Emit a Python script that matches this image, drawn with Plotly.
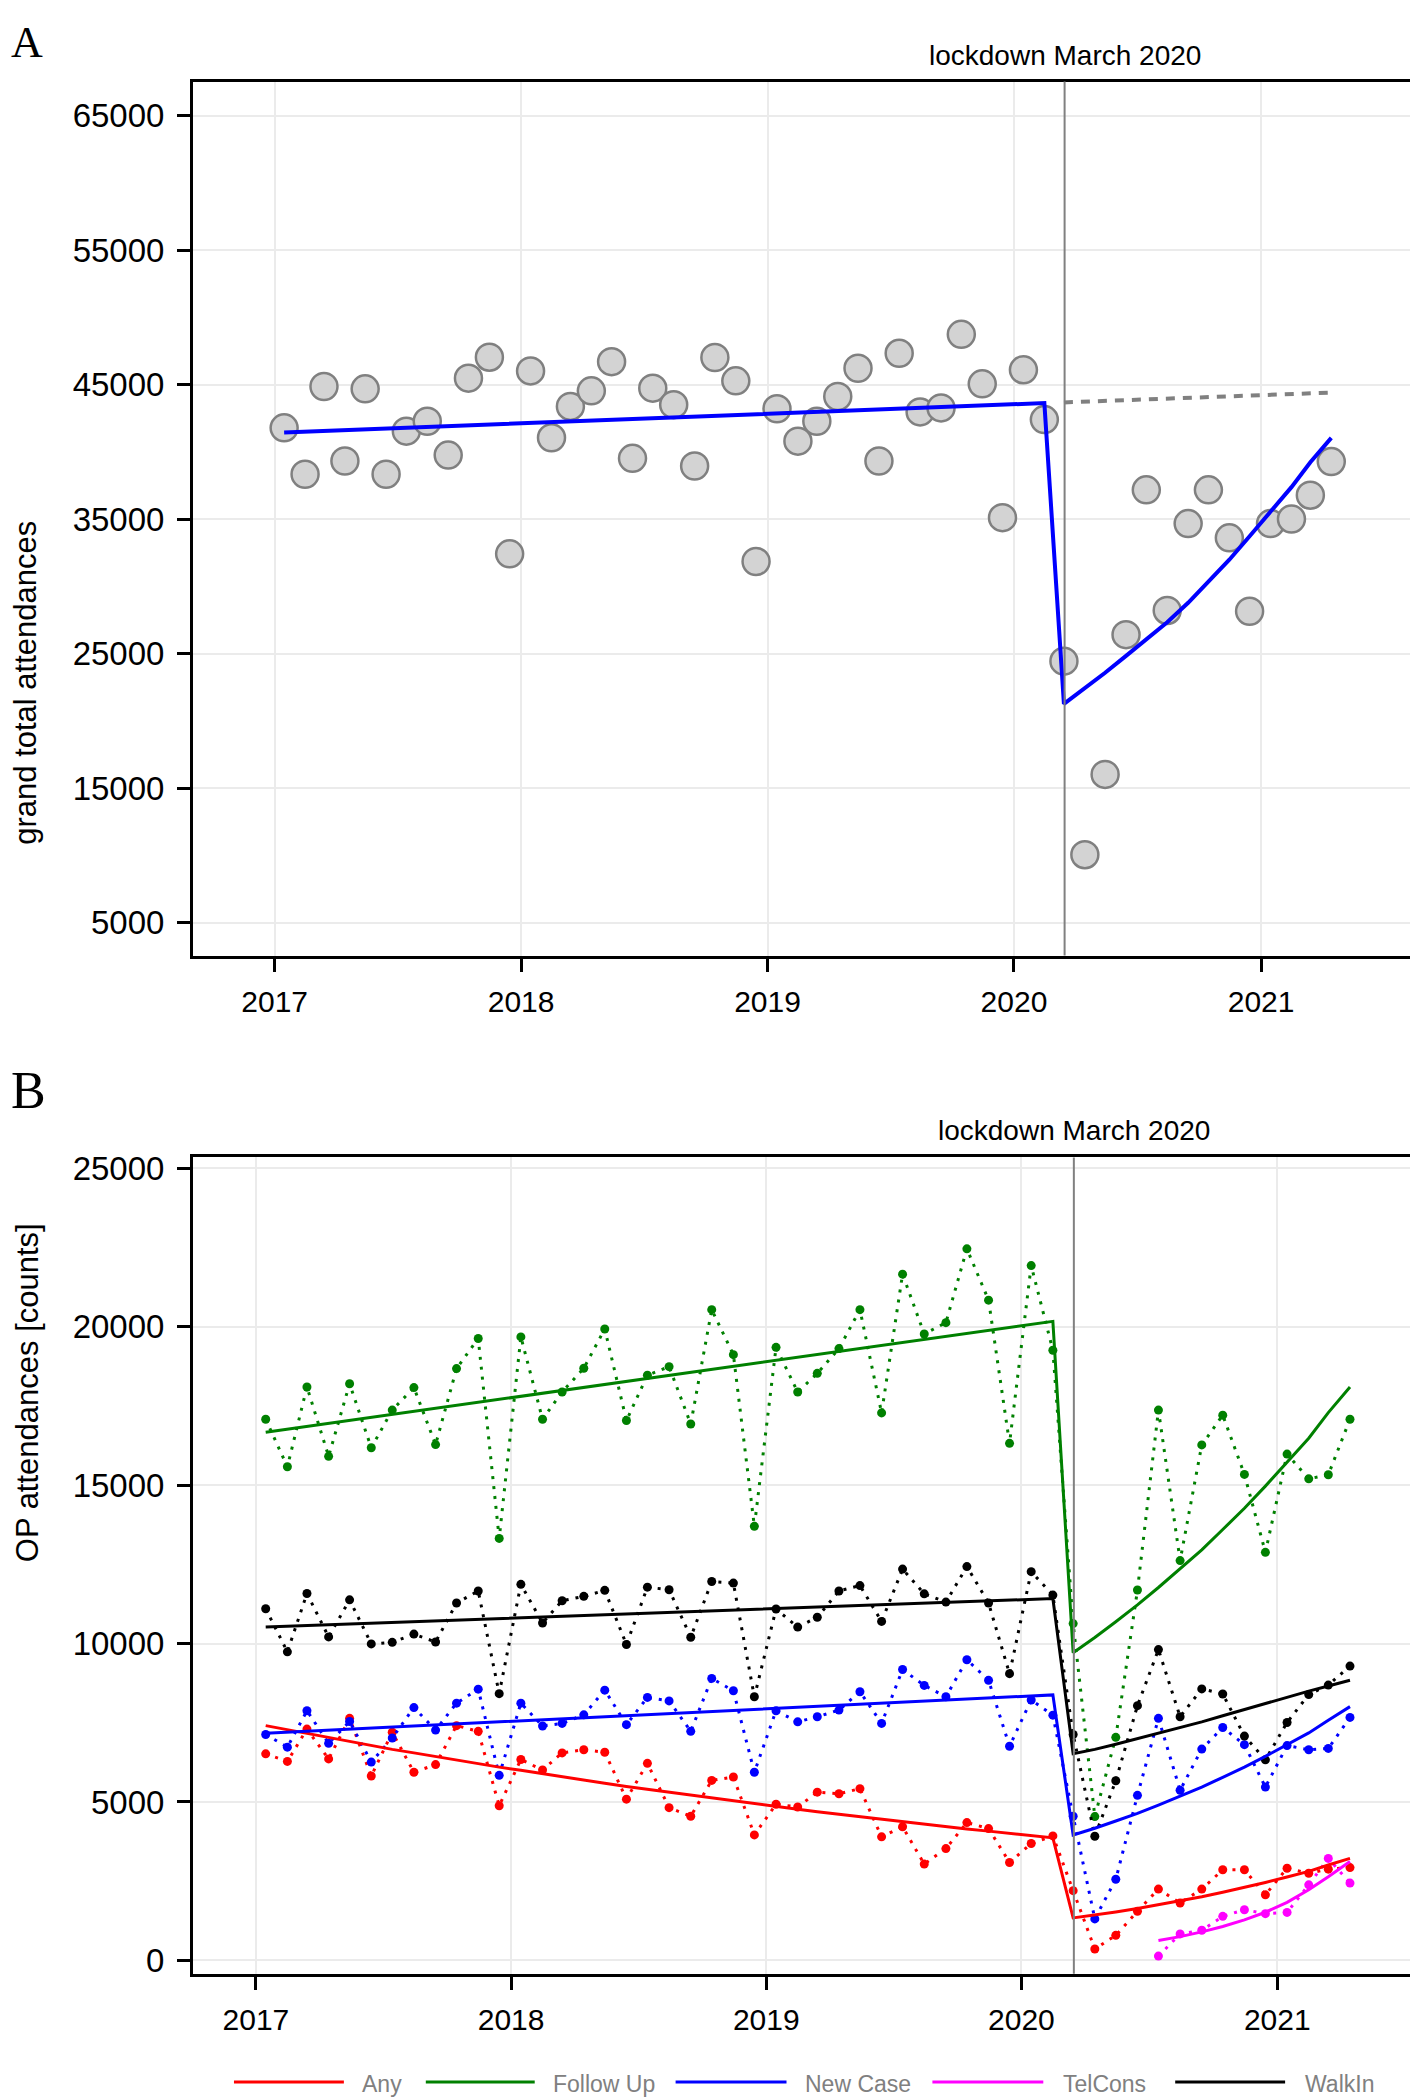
import plotly.graph_objects as go

# monthly observation dates, Jan 2017 - Apr 2021 (mid-month)
months = [f"{y}-{m:02d}-15" for y in range(2017, 2022) for m in range(1, 13)][:52]
lockdown = "2020-03-16"

# ---- panel A: grand total attendances ----
grand_total = [
    41810, 38360, 44880, 39340, 44710, 38360, 41560, 42300, 39780, 45500, 47060, 32440,
    46040, 41070, 43400, 44560, 46730, 39540, 44760, 43530, 38970, 47040, 45300, 31870,
    43230, 40820, 42300, 44140, 46240, 39340, 47350, 42990, 43290, 48760, 45080, 35130,
    46120, 42420, 24460, 10070, 16040, 26430, 37200, 28230, 34690, 37200, 33630, 28170,
    34690, 35030, 36800, 39300,
]
a_fit_pre = [41460, 43650]  # Jan 2017, Feb 2020
a_fit_post = [21280, 22420, 23600, 24850, 26100, 27350, 28800,
              30350, 32000, 33750, 35550, 37400, 39250, 41060]  # Mar 2020 - Apr 2021
a_counterfactual = [43700, 44430]  # Mar 2020, Apr 2021

# ---- panel B: OP attendances by type ----
any_visit = [
    6520, 6280, 7300, 6360, 7640, 5820, 7200, 5940, 6180, 7410, 7230, 4880,
    6340, 6010, 6550, 6650, 6570, 5090, 6220, 4820, 4550, 5680, 5790, 3960,
    4930, 4840, 5310, 5260, 5420, 3900, 4220, 3040, 3530, 4350, 4160, 3090,
    3690, 3930, 2200, 360, 790, 1550, 2250, 1810, 2250, 2860, 2860, 2070,
    2910, 2750, 2880, 2930,
]
follow_up = [
    17080, 15580, 18100, 15910, 18200, 16180, 17370, 18080, 16280, 18680, 19630, 13320,
    19680, 17080, 17940, 18690, 19930, 17040, 18470, 18740, 16930, 20540, 19120, 13700,
    19350, 17940, 18530, 19310, 20540, 17280, 21660, 19770, 20130, 22460, 20840, 16320,
    21930, 19260, 10630, 4540, 7040, 11690, 17370, 12620, 16270, 17210, 15340, 12880,
    15980, 15200, 15330, 17080,
]
new_case = [
    7130, 6730, 7880, 6850, 7540, 6260, 7020, 7980, 7270, 8120, 8560, 5840,
    8120, 7400, 7480, 7750, 8530, 7440, 8300, 8190, 7230, 8900, 8510, 5940,
    7880, 7530, 7690, 7900, 8480, 7480, 9180, 8680, 8320, 9490, 8840, 6760,
    8220, 7740, 4550, 1310, 2560, 5210, 7640, 5370, 6670, 7350, 6810, 5470,
    6780, 6650, 6690, 7670,
]
telcons = [135, 835, 950, 1390, 1600, 1475, 1515, 2385, 3220, 2440]  # Jul 2020 - Apr 2021
walkin = [
    11100, 9740, 11580, 10210, 11380, 9990, 10040, 10300, 10050, 11280, 11660, 8420,
    11870, 10650, 11350, 11490, 11680, 9970, 11780, 11700, 10200, 11960, 11910, 8320,
    11090, 10520, 10830, 11660, 11830, 10700, 12350, 11570, 11310, 12430, 11280, 9050,
    12270, 11530, 7130, 3920, 5670, 8040, 9810, 7690, 8570, 8410, 7080, 6330,
    7510, 8390, 8690, 9290,
]

# fitted segmented models
any_fit_pre = [7410, 7280, 7150, 7030, 6900, 6780, 6660, 6550, 6430, 6320, 6210, 6100,
               6000, 5890, 5790, 5690, 5590, 5490, 5400, 5300, 5210, 5120, 5030, 4940,
               4860, 4770, 4690, 4610, 4530, 4450, 4370, 4300, 4220, 4150, 4080, 4010,
               3940, 3870]
any_fit_post = [1340, 1430, 1530, 1640, 1760, 1880, 2010, 2150, 2300, 2460, 2630, 2810, 3010, 3220]
follow_fit_pre = [16670, 20170]
follow_fit_post = [9710, 10190, 10690, 11220, 11770, 12350, 12960, 13600, 14270, 14970,
                   15710, 16480, 17290, 18100]
new_fit_pre = [7170, 8380]
new_fit_post = [3960, 4170, 4400, 4640, 4900, 5180, 5470, 5780, 6100, 6440, 6800, 7180, 7580, 8010]
tel_fit = [630, 750, 900, 1070, 1280, 1520, 1830, 2230, 2640, 3120]
walk_fit_pre = [10520, 11420]
walk_fit_post = [6520, 6660, 6820, 7000, 7170, 7340, 7530, 7720, 7920, 8120, 8320, 8500, 8660, 8840]

names = ["Any", "Follow Up", "New Case", "TelCons", "WalkIn"]
colors = ["#ff0000", "#008000", "#0000ff", "#ff00ff", "#000000"]

FONT = "Liberation Sans, Arial, sans-serif"
OFF = 8  # default body margin of the page
W, H = 1418 - OFF, 2100 - OFF
ML, MR = 193 - OFF, 2
PW = W - ML - MR


def px_x(px):
    # page pixel -> paper x
    return (px - OFF - ML) / PW


def px_y(py):
    # page pixel -> paper y
    return 1 - (py - OFF) / H


fig = go.Figure()

# panel A
fig.add_trace(go.Scatter(
    x=months, y=grand_total, mode="markers", xaxis="x", yaxis="y",
    marker=dict(size=27, color="#d3d3d3", line=dict(color="#808080", width=2.5)),
))
fig.add_trace(go.Scatter(
    x=[months[38], months[51]], y=a_counterfactual, mode="lines", xaxis="x", yaxis="y",
    line=dict(color="#808080", width=4, dash="9px,8px"),
))
fig.add_trace(go.Scatter(
    x=[months[0], months[37]] + months[38:], y=a_fit_pre + a_fit_post,
    mode="lines", xaxis="x", yaxis="y", line=dict(color="#0000ff", width=4),
))

# panel B observed series
series = [
    (months, any_visit),
    (months, follow_up),
    (months, new_case),
    (months[42:], telcons),
    (months, walkin),
]
for (xs, ys), c in zip(series, colors):
    fig.add_trace(go.Scatter(
        x=xs, y=ys, mode="lines+markers", xaxis="x2", yaxis="y2",
        line=dict(color=c, width=3, dash="3px,7px"),
        marker=dict(size=9, color=c),
    ))

# panel B fitted lines
fits = [
    (months, any_fit_pre + any_fit_post),
    ([months[0], months[37]] + months[38:], follow_fit_pre + follow_fit_post),
    ([months[0], months[37]] + months[38:], new_fit_pre + new_fit_post),
    (months[42:], tel_fit),
    ([months[0], months[37]] + months[38:], walk_fit_pre + walk_fit_post),
]
for (xs, ys), c in zip(fits, colors):
    fig.add_trace(go.Scatter(
        x=xs, y=ys, mode="lines", xaxis="x2", yaxis="y2",
        line=dict(color=c, width=3),
    ))

year_vals = [f"{y}-01-01" for y in range(2017, 2022)]
year_text = [str(y) for y in range(2017, 2022)]

axis_common = dict(
    showline=True, mirror=True, linecolor="black", linewidth=3,
    showgrid=True, gridcolor="#ebebeb", gridwidth=2, zeroline=False,
    ticks="outside", ticklen=13, tickwidth=2.5, tickcolor="black",
)

fig.update_layout(
    width=W, height=H,
    margin=dict(l=ML, r=MR, t=0, b=0),
    paper_bgcolor="white", plot_bgcolor="white",
    showlegend=False,
    font=dict(family=FONT, color="black"),
    xaxis=dict(
        **axis_common, type="date", domain=[0, 1], anchor="y",
        range=["2016-09-02", "2021-08-17"],
        tickvals=year_vals, ticktext=year_text,
        tickfont=dict(size=30), ticklabelstandoff=4,
    ),
    yaxis=dict(
        **axis_common, domain=[px_y(954), px_y(75)], anchor="x",
        range=[2570, 67550],
        tickvals=[5000, 15000, 25000, 35000, 45000, 55000, 65000], tickformat="d",
        tickfont=dict(size=33), ticklabelstandoff=6,
    ),
    xaxis2=dict(
        **axis_common, type="date", domain=[0, 1], anchor="y2",
        range=["2016-10-03", "2021-07-17"],
        tickvals=year_vals, ticktext=year_text,
        tickfont=dict(size=30), ticklabelstandoff=4,
    ),
    yaxis2=dict(
        **axis_common, domain=[px_y(1978), px_y(1157)], anchor="x2",
        range=[-420, 25345],
        tickvals=[0, 5000, 10000, 15000, 20000, 25000], tickformat="d",
        tickfont=dict(size=33), ticklabelstandoff=6,
    ),
)

# lockdown markers
for xr, yr in [("x", "y"), ("x2", "y2")]:
    fig.add_shape(type="line", xref=xr, yref=f"{yr} domain", x0=lockdown, x1=lockdown,
                  y0=0, y1=1, line=dict(color="#808080", width=2))
    fig.add_annotation(x=lockdown, xref=xr, y=1, yref=f"{yr} domain", text="lockdown March 2020",
                       showarrow=False, yanchor="bottom", yshift=9,
                       font=dict(size=28, family=FONT, color="black"))

# panel letters
fig.add_annotation(x=px_x(9), y=px_y(9), xref="paper", yref="paper", text="A",
                   showarrow=False, xanchor="left", yanchor="top",
                   font=dict(size=44, family="Liberation Serif, Times New Roman, serif"))
fig.add_annotation(x=px_x(9), y=px_y(1090), xref="paper", yref="paper", text="B",
                   showarrow=False, xanchor="left", yanchor="middle",
                   font=dict(size=52, family="Liberation Serif, Times New Roman, serif"))

# axis titles
fig.add_annotation(x=px_x(5), y=px_y(515), xref="paper", yref="paper",
                   text="grand total attendances", textangle=-90, showarrow=False,
                   font=dict(size=31, family=FONT))
fig.add_annotation(x=px_x(8), y=px_y(1566), xref="paper", yref="paper",
                   text="OP attendances [counts]", textangle=-90, showarrow=False,
                   font=dict(size=31, family=FONT))

# legend drawn by hand (long line keys)
legend_pos = [(234, 344, 360), (426, 535, 551), (676, 787, 803), (933, 1044, 1062), (1176, 1286, 1304)]
ly = 2087
for (x0, x1, tx), name, c in zip(legend_pos, names, colors):
    fig.add_shape(type="line", xref="paper", yref="paper",
                  x0=px_x(x0), x1=px_x(x1), y0=px_y(ly), y1=px_y(ly),
                  line=dict(color=c, width=3))
    fig.add_annotation(x=px_x(tx), y=px_y(ly + 2), xref="paper", yref="paper", text=name,
                       showarrow=False, xanchor="left", yanchor="middle",
                       font=dict(size=23, family=FONT, color="#808080"))

fig.write_html("out.html")
